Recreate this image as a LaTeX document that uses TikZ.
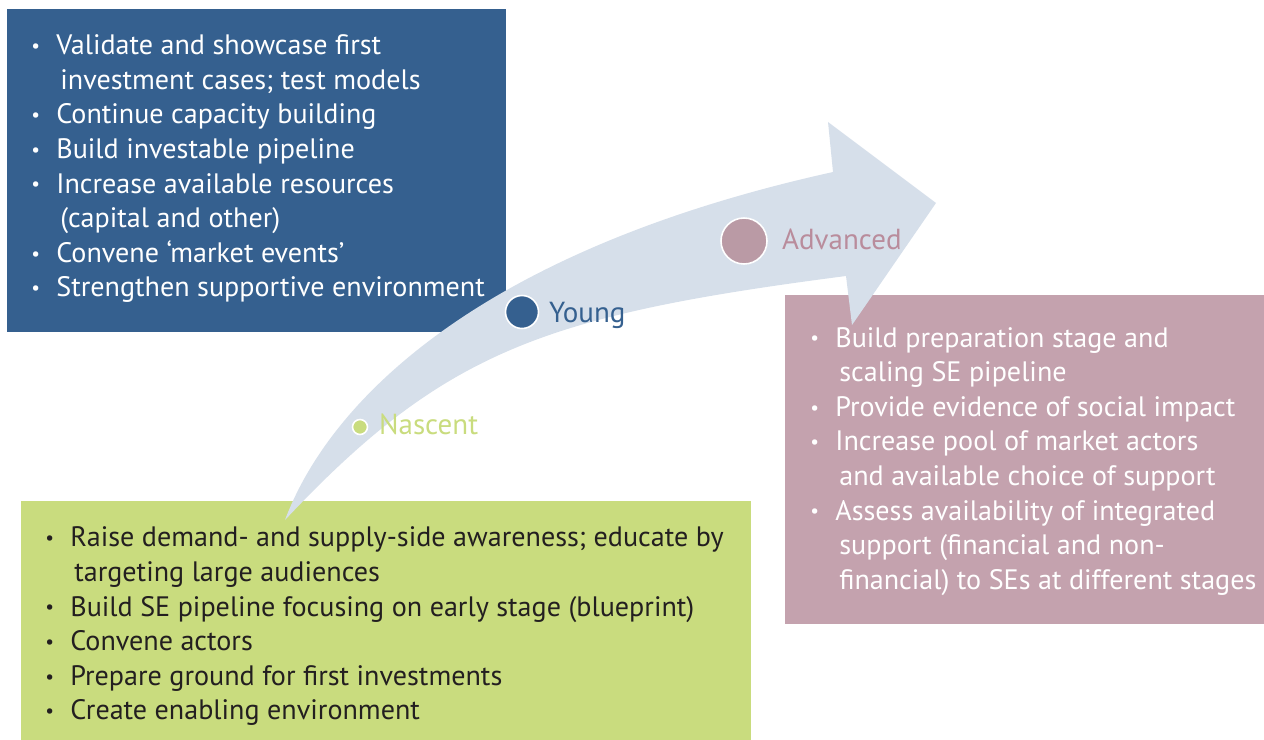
\documentclass[tikz,border=0pt]{standalone}
\usepackage{fontspec}
\setmainfont{PT Sans}
\usepackage{xcolor}
\usetikzlibrary{positioning}

\definecolor{youngblue}{HTML}{35608F}
\definecolor{advpink}{HTML}{C4A2AE}
\definecolor{advtext}{HTML}{B98C9C}
\definecolor{nasgreen}{HTML}{C9DC7E}
\definecolor{arrowgrey}{HTML}{D6DFEA}
\definecolor{darktext}{HTML}{231F20}

\newcommand{\bitem}{\makebox[0.5cm][l]{\raisebox{1.2pt}{\fontsize{11}{11}\selectfont\textbullet}}}
\newcommand{\bcont}{\hspace{0.58cm}}

\tikzset{
  stagebox/.style={inner sep=0pt, anchor=north west},
  listtext/.style={align=left, inner sep=0pt, anchor=west, font=\fontsize{16}{19.7}\selectfont},
  stagedot/.style={circle, draw=white, line width=0.9pt, inner sep=0pt},
  stagelabel/.style={inner sep=0pt, anchor=west, font=\fontsize{16.5}{19}\selectfont}
}

\begin{document}
\begin{tikzpicture}[x=0.02cm, y=-0.02cm]
\useasboundingbox (0,0) rectangle (1264,740);

% Stage boxes
\node[stagebox, fill=youngblue, minimum width=9.98cm, minimum height=6.46cm] (youngbox) at (7,9) {};
\node[stagebox, fill=advpink, minimum width=9.58cm, minimum height=6.58cm] (advbox) at (785,295) {};
\node[stagebox, fill=nasgreen, minimum width=14.6cm, minimum height=4.78cm] (nasbox) at (21,501) {};

% Growth arrow
\fill[arrowgrey] (285,520) .. controls (330,400) and (480,250) .. (833,172)
  -- (828,122) -- (936,203) -- (852,325) -- (846,276)
  .. controls (546,315) and (445,350) .. (285,520) -- cycle;

% Box texts
\node[listtext, text=white, right=0.48cm of youngbox.west, yshift=0.04cm] (youngtext) {%
\bitem Validate and showcase first\\
\bcont investment cases; test models\\
\bitem Continue capacity building\\
\bitem Build investable pipeline\\
\bitem Increase available resources\\
\bcont (capital and other)\\
\bitem Convene ‘market events’\\
\bitem Strengthen supportive environment};

\node[listtext, text=white, right=0.5cm of advbox.west, yshift=-0.03cm] (advtext) {%
\bitem Build preparation stage and\\
\bcont scaling SE pipeline\\
\bitem Provide evidence of social impact\\
\bitem Increase pool of market actors\\
\bcont and available choice of support\\
\bitem Assess availability of integrated\\
\bcont support (financial and non-\\
\bcont financial) to SEs at different stages};

\node[listtext, text=darktext, right=0.48cm of nasbox.west, yshift=-0.11cm] (nastext) {%
\bitem Raise demand- and supply-side awareness; educate by\\
\bcont targeting large audiences\\
\bitem Build SE pipeline focusing on early stage (blueprint)\\
\bitem Convene actors\\
\bitem Prepare ground for first investments\\
\bitem Create enabling environment};

% Stage markers on the arrow
\node[stagedot, fill=nasgreen, minimum size=0.3cm] (nas) at (360,427) {};
\node[stagedot, fill=youngblue, minimum size=0.66cm] (young) at (522,312) {};
\node[stagedot, fill=advpink!95!black, minimum size=0.92cm] (adv) at (744,241) {};

\node[stagelabel, text=nasgreen, right=0.21cm of nas.east, yshift=0.06cm] (naslabel) {Nascent};
\node[stagelabel, text=youngblue, right=0.19cm of young.east, yshift=-0.07cm] (younglabel) {Young};
\node[stagelabel, text=advtext, right=0.28cm of adv.east, yshift=0.04cm] (advlabel) {Advanced};
\end{tikzpicture}
\end{document}
